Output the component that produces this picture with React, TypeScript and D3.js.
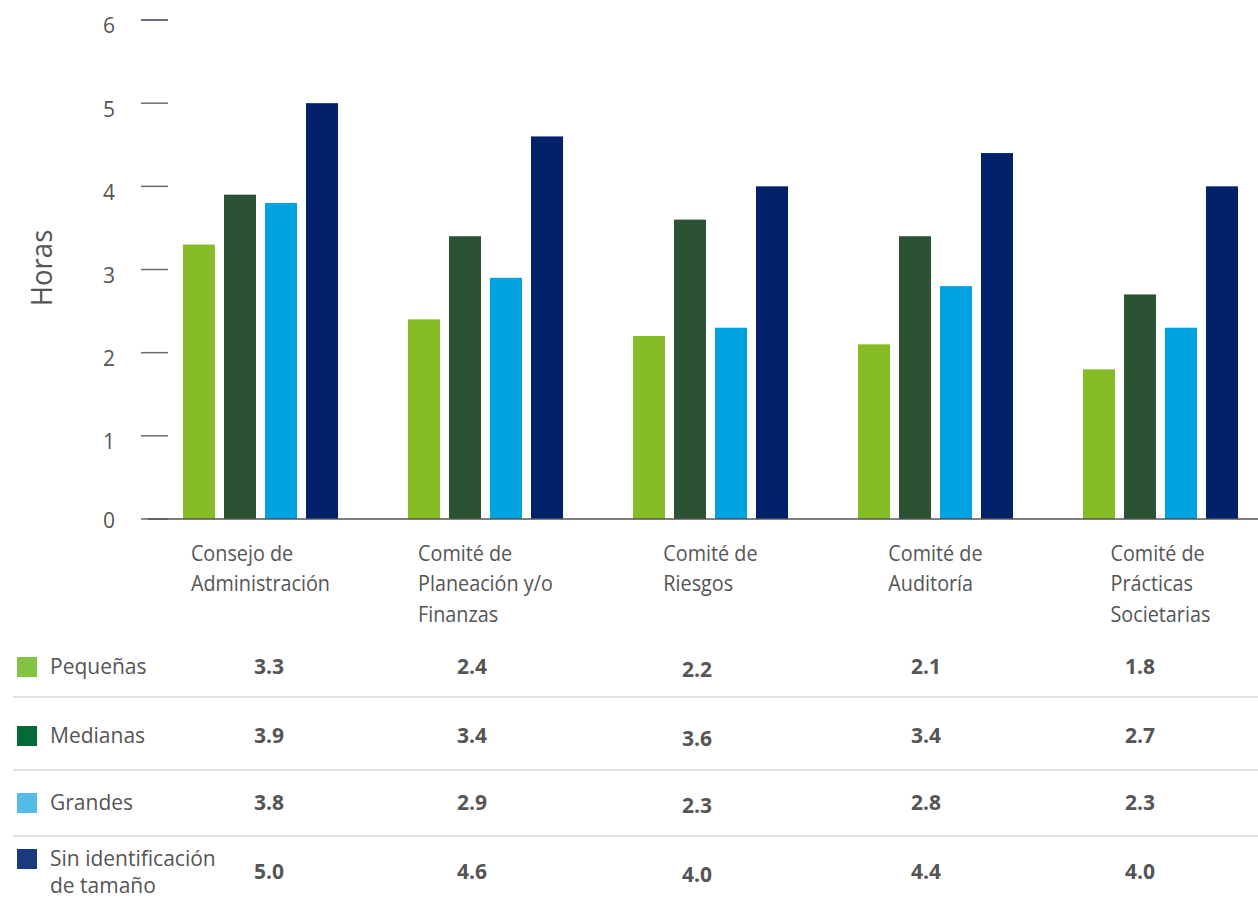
import React, { useEffect, useRef } from "react";
import * as d3 from "d3";

const categories = [
  "Consejo de Administración",
  "Comité de Planeación y/o Finanzas",
  "Comité de Riesgos",
  "Comité de Auditoría",
  "Comité de Prácticas Societarias",
];
const categoryLines = [
  ["Consejo de", "Administración"],
  ["Comité de", "Planeación y/o", "Finanzas"],
  ["Comité de", "Riesgos"],
  ["Comité de", "Auditoría"],
  ["Comité de", "Prácticas", "Societarias"],
];
const seriesNames = ["Pequeñas", "Medianas", "Grandes", "Sin identificación de tamaño"];
const legendLines = [["Pequeñas"], ["Medianas"], ["Grandes"], ["Sin identificación", "de tamaño"]];
const pequenas = [3.3, 2.4, 2.2, 2.1, 1.8];
const medianas = [3.9, 3.4, 3.6, 3.4, 2.7];
const grandes = [3.8, 2.9, 2.3, 2.8, 2.3];
const sinIdentificacion = [5.0, 4.6, 4.0, 4.4, 4.0];
const seriesValues = [pequenas, medianas, grandes, sinIdentificacion];
const barColors = ["#86BC25", "#2C5234", "#00A3E0", "#012169"];
const legendColors = ["#82C341", "#046A38", "#55BCE8", "#1A3A80"];
const yTicks = [0, 1, 2, 3, 4, 5, 6];
const yLabel = "Horas";

// layout constants
const W = 1258;
const H = 905;
const tableColX = [269, 472, 697, 926, 1140];
const rowY = [667, 736, 803, 872];
const sepY = [697, 770, 836];

export default function App() {
  const ref = useRef<SVGSVGElement | null>(null);

  useEffect(() => {
    const svg = d3.select(ref.current);
    svg.selectAll("*").remove();
    const font = "'Open Sans', 'Noto Sans', sans-serif";
    const textColor = "#555555";

    const y = d3.scaleLinear().domain([0, 6]).range([519, 20]);
    const x0 = d3
      .scaleBand<string>()
      .domain(categories)
      .range([148, 1273])
      .paddingInner(0.311)
      .paddingOuter(0.1556);
    const x1 = d3
      .scaleBand<string>()
      .domain(seriesNames)
      .range([0, x0.bandwidth()])
      .paddingInner(0.2195)
      .paddingOuter(0);

    // y ticks
    const gy = svg.append("g");
    yTicks.forEach((t) => {
      gy.append("line")
        .attr("x1", 141)
        .attr("x2", 168)
        .attr("y1", y(t))
        .attr("y2", y(t))
        .attr("stroke", t === 6 ? "#3a3f55" : "#6b6b6b")
        .attr("stroke-width", 1.5);
      gy.append("text")
        .attr("x", 115)
        .attr("y", y(t) + (t === 0 ? 2 : 6))
        .attr("dy", "0.35em")
        .attr("text-anchor", "end")
        .attr("font-family", font)
        .attr("font-size", 21)
        .attr("fill", textColor)
        .text(String(t));
    });

    // y label
    svg
      .append("text")
      .attr("transform", `translate(52,${268}) rotate(-90) scale(0.95,1)`)
      .attr("text-anchor", "middle")
      .attr("font-family", font)
      .attr("font-size", 29)
      .attr("fill", textColor)
      .text(yLabel);

    // bars
    categories.forEach((c, ci) => {
      const g = svg.append("g").attr("transform", `translate(${x0(c)},0)`);
      seriesNames.forEach((s, si) => {
        const v = seriesValues[si][ci];
        g.append("rect")
          .attr("x", x1(s)!)
          .attr("y", y(v))
          .attr("width", x1.bandwidth())
          .attr("height", y(0) - y(v))
          .attr("fill", barColors[si]);
      });
    });

    // x axis line
    svg
      .append("line")
      .attr("x1", 148)
      .attr("x2", W)
      .attr("y1", y(0))
      .attr("y2", y(0))
      .attr("stroke", "#555")
      .attr("stroke-width", 1.5);

    // category labels: left-aligned block centered on group
    const catSx = 0.9;
    categories.forEach((c, ci) => {
      const center = x0(c)! + x0.bandwidth() / 2;
      const t = svg
        .append("text")
        .attr("font-family", font)
        .attr("font-size", 22)
        .attr("fill", textColor);
      categoryLines[ci].forEach((line, li) => {
        t.append("tspan")
          .attr("x", 0)
          .attr("y", li * 30.5)
          .text(line);
      });
      const bb = (t.node() as SVGTextElement).getBBox();
      const left = center - (bb.width * catSx) / 2;
      t.attr("transform", `translate(${left},561) scale(${catSx},1)`);
    });

    // table separators
    sepY.forEach((sy) => {
      svg
        .append("line")
        .attr("x1", 13)
        .attr("x2", W)
        .attr("y1", sy)
        .attr("y2", sy)
        .attr("stroke", "#d9d9d9")
        .attr("stroke-width", 1.5);
    });

    // legend rows + values
    seriesNames.forEach((s, si) => {
      const ry = rowY[si];
      const nLines = legendLines[si].length;
      const topY = nLines > 1 ? ry - 13 : ry;
      svg
        .append("rect")
        .attr("x", 17)
        .attr("y", topY - 10)
        .attr("width", 20)
        .attr("height", 20)
        .attr("fill", legendColors[si]);
      const t = svg
        .append("text")
        .attr("font-family", font)
        .attr("font-size", 21)
        .attr("fill", textColor);
      legendLines[si].forEach((line, li) => {
        t.append("tspan")
          .attr("x", 50)
          .attr("y", topY + li * 27)
          .attr("dy", "0.35em")
          .text(line);
      });
      seriesValues[si].forEach((v, ci) => {
        svg
          .append("text")
          .attr("x", tableColX[ci])
          .attr("y", ry + (ci === 2 ? 3 : 0))
          .attr("dy", "0.35em")
          .attr("text-anchor", "middle")
          .attr("font-family", font)
          .attr("font-size", 21)
          .attr("font-weight", 700)
          .attr("fill", textColor)
          .text(d3.format(".1f")(v));
      });
    });
  }, []);

  return (
    <div style={{ position: "absolute", left: 0, top: 0, width: W, height: H, background: "#fff" }}>
      <svg ref={ref} width={W} height={H} />
    </div>
  );
}
